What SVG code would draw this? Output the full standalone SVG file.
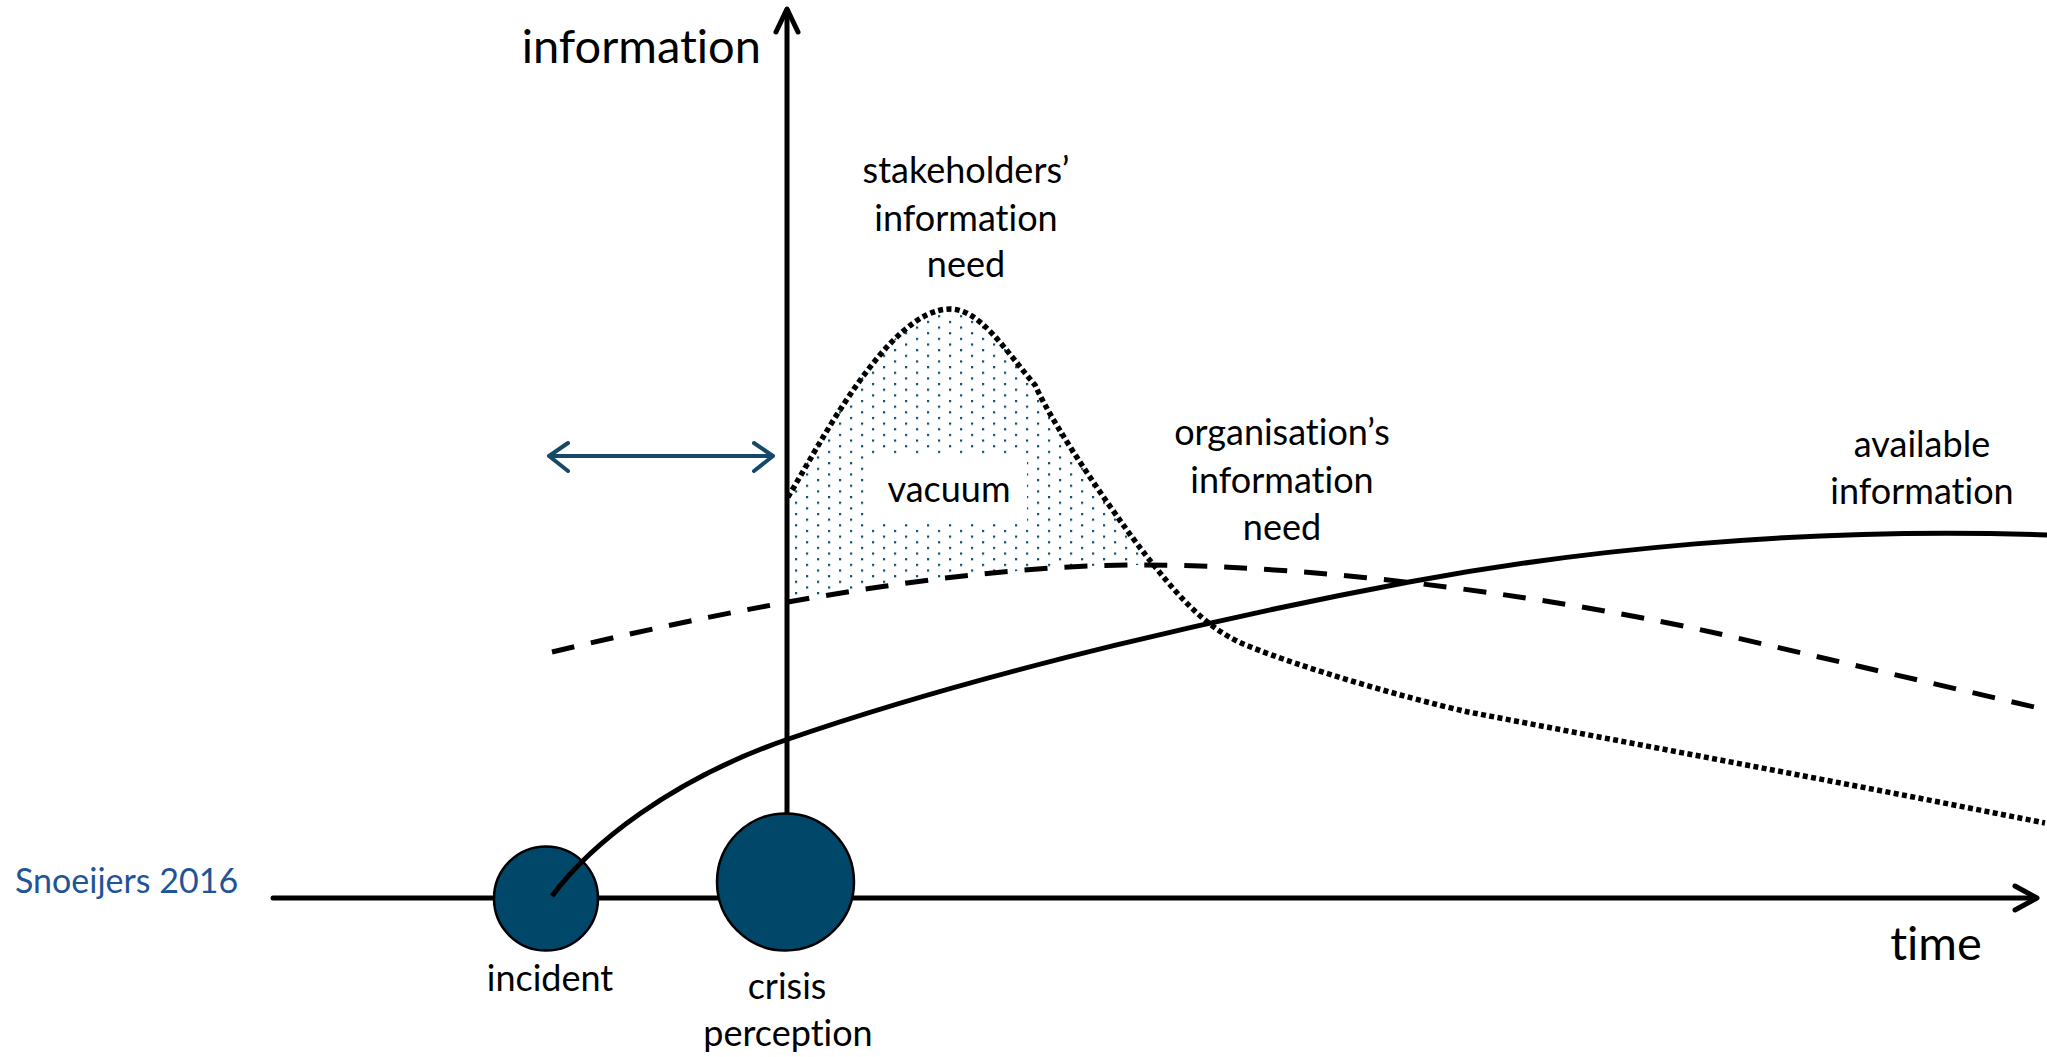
<svg xmlns="http://www.w3.org/2000/svg" width="2047" height="1057" viewBox="0 0 2047 1057">
<style>
.lbl{font-family:Lato,"Liberation Sans","DejaVu Sans",sans-serif;font-size:36px;fill:#000;text-anchor:middle;font-variant-ligatures:none}
.ax{font-family:Lato,"Liberation Sans","DejaVu Sans",sans-serif;font-size:47px;fill:#000;font-variant-ligatures:none}
.axis{fill:none;stroke:#000;stroke-width:5;stroke-linecap:round;stroke-linejoin:round}
.node{fill:#00476a;stroke:#000;stroke-width:2.5}
.solid{fill:none;stroke:#000;stroke-width:5}
.dash{fill:none;stroke:#000;stroke-width:5;stroke-dasharray:23 17}
.dot{fill:none;stroke:#000;stroke-width:5.5;stroke-dasharray:5 3.4}
.blue{fill:none;stroke:#15496a;stroke-width:4;stroke-linecap:round;stroke-linejoin:round}
</style>
<defs>
<pattern id="dots" x="894" y="383" width="22" height="11.3" patternUnits="userSpaceOnUse">
<rect x="0" y="0" width="2.2" height="2.2" fill="#0d4f70"/>
<rect x="11" y="5.65" width="2.2" height="2.2" fill="#0d4f70"/>
</pattern>
</defs>
<rect width="2047" height="1057" fill="#fff"/>

<g id="vacuum-area">
<path d="M787 497 C818 448 888 309 950 309 C980 309 1005 350 1035 385 C1055 430 1125 530 1152 565 C1000 565 880 588 787 604 Z" fill="url(#dots)"/>
<rect x="866" y="455" width="161" height="67" fill="#fff"/>
<text class="lbl" x="949" y="502">vacuum</text>
</g>

<g id="axes">
<path class="axis" d="M273 898 H2035"/>
<path class="axis" d="M2015 886 L2037 898 L2015 910"/>
<path class="axis" d="M787 814 V10"/>
<path class="axis" d="M776 32 L787 9 L798 32"/>
<text class="ax" x="761" y="63" text-anchor="end">information</text>
<text class="ax" x="1936" y="960" text-anchor="middle">time</text>
</g>

<g id="incident">
<circle class="node" cx="546" cy="898.5" r="52"/>
<text class="lbl" x="550" y="991">incident</text>
</g>

<g id="crisis-perception">
<circle class="node" cx="785.5" cy="882" r="68.5"/>
<text class="lbl" x="787" y="999">crisis</text>
<text class="lbl" x="788" y="1046">perception</text>
</g>

<g id="connectors">
<path id="org-need" class="dash" d="M552 652 C720 612 950 565 1140 565 C1330 565 1570 600 1720 634 L2045 709.5"/>
<path id="stakeholder-need" class="dot" d="M788 497 C818 448 888 309 950 309 C980 309 1005 350 1035 385 C1055 430 1125 530 1152 563 C1174 590 1205 630 1250 646.7 C1300 667 1400 696.6 1467 711.7 C1650 747 1850 784 2045 823"/>
<path id="available" class="solid" d="M552 896 C590 845 670 780 787 739.5 C994 668 1249 612 1409 582 C1569 552 1800 526 2047 535"/>
<path id="vacuum-span" class="blue" d="M550 456 H773 M568 443 L549 456 L568 471 M754 443 L773 456 L754 471"/>
</g>

<g id="labels">
<text class="lbl" x="966" y="183">stakeholders’</text>
<text class="lbl" x="966" y="231">information</text>
<text class="lbl" x="966" y="277">need</text>
<text class="lbl" x="1282" y="445">organisation’s</text>
<text class="lbl" x="1282" y="493">information</text>
<text class="lbl" x="1282" y="540">need</text>
<text class="lbl" x="1922" y="457">available</text>
<text class="lbl" x="1922" y="504">information</text>
<text x="15" y="893" font-family="Lato,'Liberation Sans',sans-serif" font-size="34" fill="#1f5597">Snoeijers 2016</text>
</g>
</svg>
